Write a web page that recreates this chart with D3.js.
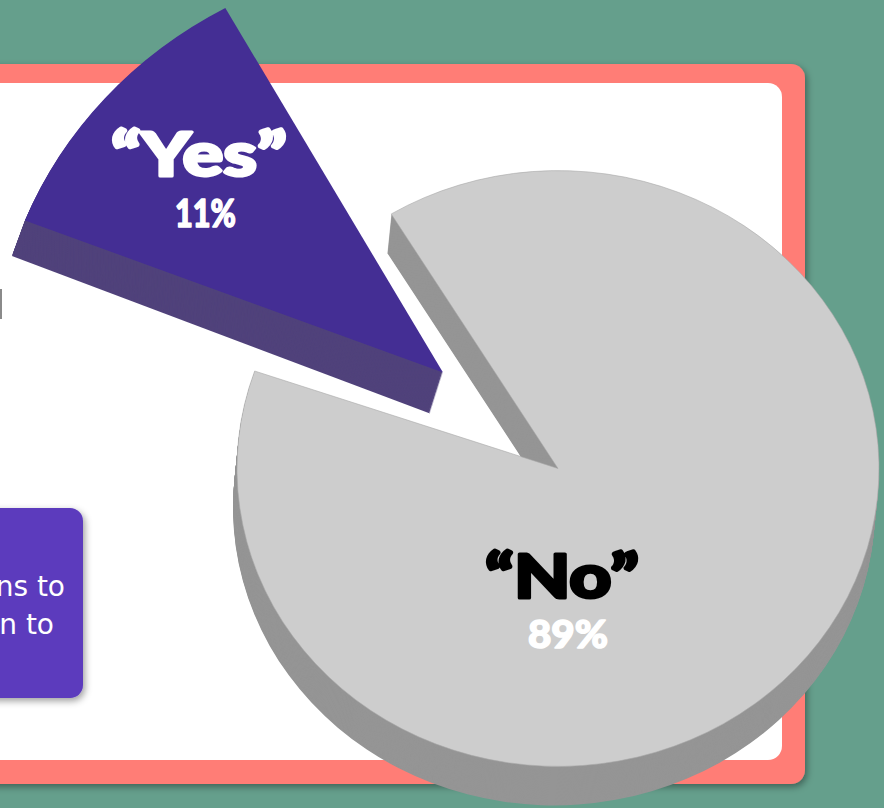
<!DOCTYPE html>
<html>
<head>
<meta charset="utf-8">
<script src="https://cdn.jsdelivr.net/npm/d3@7"></script>
<style>
  html, body { margin: 0; padding: 0; background: #659f8c; overflow: hidden; }
  svg { display: block; }
</style>
</head>
<body>
<script>
// Survey answers shown on the pie
const categories = ["No", "Yes"];
const shares = [89, 11];
const quoted = ["“No”", "“Yes”"];
const shareLabels = ["89%", "11%"];
const topColors = ["#cdcdcd", "#442e94"];
const sideColors = ["#959595", "#50427b"];
const labelColors = ["#000000", "#ffffff"];
const shareColors = ["#ffffff", "#ffffff"];
const calloutLines = ["ns to", "n to"];

const width = 884, height = 808;
const squash = 0.928;
const deg = Math.PI / 180;

const svg = d3.select("body").append("svg").attr("width", width).attr("height", height);

const defs = svg.append("defs");
const shadow = defs.append("filter").attr("id", "cardShadow")
  .attr("x", "-10%").attr("y", "-10%").attr("width", "120%").attr("height", "120%");
shadow.append("feDropShadow").attr("dx", 2).attr("dy", 3).attr("stdDeviation", 3.5)
  .attr("flood-color", "#000").attr("flood-opacity", 0.38);

// Card behind the pie
svg.append("rect").attr("x", -30).attr("y", 64).attr("width", 835).attr("height", 720)
  .attr("rx", 14).attr("fill", "#ff7d76").attr("filter", "url(#cardShadow)");
svg.append("rect").attr("x", -30).attr("y", 83).attr("width", 812).attr("height", 677)
  .attr("rx", 14).attr("fill", "#ffffff");

// Callout box running off the left edge
svg.append("rect").attr("x", -40).attr("y", 508).attr("width", 123).attr("height", 190)
  .attr("rx", 13).attr("fill", "#5b3abd").attr("filter", "url(#cardShadow)");
svg.selectAll("text.callout").data(calloutLines).join("text")
  .attr("class", "callout")
  .attr("x", (d, i) => i ? 54 : 65)
  .attr("y", (d, i) => 596 + i * 38)
  .attr("text-anchor", "end")
  .attr("font-family", "'DejaVu Sans', Inter, sans-serif")
  .attr("font-size", 28)
  .attr("fill", "#ffffff")
  .text(d => d);

// Stem of a cut-off letter at the left edge
svg.append("rect").attr("x", 0).attr("y", 289).attr("width", 2).attr("height", 30).attr("fill", "#8a8a8a");

// Pie layout: slices run clockwise from the notch's upper edge
const pie = d3.pie().sort(null).startAngle(-31.3 * deg).endAngle((360 - 31.3) * deg);
const slices = pie(shares);

const layout = [
  { cx: 558, cy: 468.5, r: 321, tilt: 0, dx: -4, dy: 39, skew: 0 },
  { cx: 443, cy: 372.5, r: 449, tilt: 2.3 * deg, dx: -13, dy: 41, skew: 0.76 }
];

const arc = d3.arc().innerRadius(0);

const groups = svg.selectAll("g.slice").data(slices).join("g").attr("class", "slice");

groups.each(function (d, i) {
  const g = d3.select(this);
  const p = layout[i];
  const path = arc({ outerRadius: p.r, startAngle: d.startAngle + p.tilt, endAngle: d.endAngle + p.tilt });
  // Side wall: the slice swept along the extrusion direction, closing up slightly toward the rim
  const steps = d3.range(p.dy, 0, -1);
  g.selectAll("path.side").data(steps).join("path")
    .attr("class", "side")
    .attr("d", path)
    .attr("fill", sideColors[i])
    .attr("transform", s => `translate(${p.cx + p.dx * s / p.dy},${p.cy + s}) skewY(${p.skew * s / p.dy}) scale(1,${squash})`);
  g.append("path")
    .attr("d", path)
    .attr("fill", topColors[i])
    .attr("stroke", i ? "none" : "#a8a8a8")
    .attr("stroke-width", 0.6)
    .attr("transform", `translate(${p.cx},${p.cy}) scale(1,${squash})`);
});

// Slice captions, fitted to the widths of the wide display lettering and thickened with an outline
const captionPos = [
  { x: 562, y: 598, w: 154, px: 568, py: 647.5, pw: 80 },
  { x: 199, y: 176, w: 176, px: 205.5, py: 226.5, pw: 61 }
];
const font = "Lato, Roboto, sans-serif";
svg.selectAll("text.answer").data(quoted).join("text")
  .attr("class", "answer")
  .attr("x", (d, i) => captionPos[i].x)
  .attr("y", (d, i) => captionPos[i].y)
  .attr("text-anchor", "middle")
  .attr("font-family", font)
  .attr("font-weight", 900)
  .attr("font-size", 60)
  .attr("textLength", (d, i) => captionPos[i].w)
  .attr("lengthAdjust", "spacingAndGlyphs")
  .attr("fill", (d, i) => labelColors[i])
  .attr("stroke", (d, i) => labelColors[i])
  .attr("stroke-width", 3)
  .attr("stroke-linejoin", "round")
  .text(d => d);
svg.selectAll("text.share").data(shareLabels).join("text")
  .attr("class", "share")
  .attr("x", (d, i) => captionPos[i].px)
  .attr("y", (d, i) => captionPos[i].py)
  .attr("text-anchor", "middle")
  .attr("font-family", font)
  .attr("font-weight", 900)
  .attr("font-size", 37)
  .attr("textLength", (d, i) => captionPos[i].pw)
  .attr("lengthAdjust", "spacingAndGlyphs")
  .attr("fill", (d, i) => shareColors[i])
  .attr("stroke", (d, i) => shareColors[i])
  .attr("stroke-width", 1.5)
  .attr("stroke-linejoin", "round")
  .text(d => d);
</script>
</body>
</html>
